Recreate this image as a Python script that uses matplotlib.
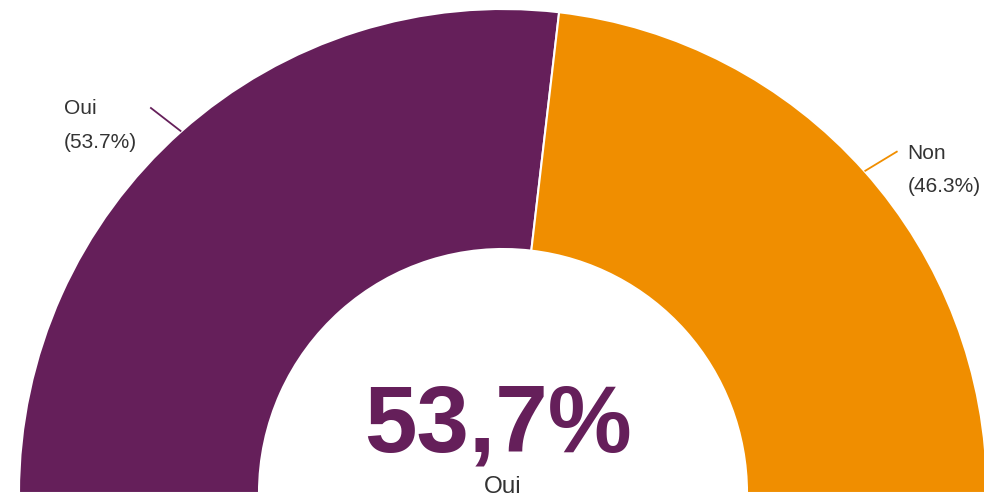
import matplotlib
matplotlib.use("Agg")
import matplotlib.pyplot as plt
import numpy as np

categories = ["Oui", "Non"]
values = [53.7, 46.3]
colors = ["#651F5A", "#F08E00"]
center_label = "53,7%"
center_sub = "Oui"

W, H = 984, 504
fig = plt.figure(figsize=(W / 100, H / 100), dpi=100)
ax = fig.add_axes([0, 0, 1, 1])
plt.rcParams['font.family'] = ['Liberation Sans', 'DejaVu Sans']

cx, cy = 503, 11
R = 484
ring = 240

total = sum(values)
pie_vals = values + [total]
wedges, _ = ax.pie(pie_vals, colors=colors + ["none"], startangle=180,
                   counterclock=False, center=(cx, cy), radius=R,
                   wedgeprops=dict(width=ring, edgecolor="white", linewidth=1.5))
wedges[-1].set_edgecolor("none")

ax.set_xlim(0, W)
ax.set_ylim(0, H)
ax.set_aspect("auto")
ax.axis("off")

txtcol = "#333333"
offsets = [(-31, 24), (33, 20)]
text_dy = [8, 7]
start = 180.0
for i, (cat, v) in enumerate(zip(categories, values)):
    span = 180.0 * v / total
    mid = np.deg2rad(start - span / 2)
    start -= span
    x0 = cx + R * np.cos(mid)
    y0 = cy + R * np.sin(mid)
    dx, dy = offsets[i]
    x1, y1 = x0 + dx, y0 + dy
    ax.plot([x0, x1], [y0, y1], color=colors[i], lw=1.3, solid_capstyle="butt")
    lab = f"{cat}\n({v:.1f}%)"
    if dx < 0:
        ax.text(x1 - 13, y1 + text_dy[i], lab, ha="right", va="top", multialignment="left",
                fontsize=15, color=txtcol, linespacing=1.95)
    else:
        ax.text(x1 + 10, y1 + text_dy[i], lab, ha="left", va="top", multialignment="left",
                fontsize=15, color=txtcol, linespacing=1.95)

ax.text(498, 504 - 451, center_label, ha="center", va="baseline",
        fontsize=68, fontweight="bold", color=colors[0])
ax.text(503, 504 - 493, center_sub, ha="center", va="baseline",
        fontsize=17.5, color=txtcol)

fig.savefig("out.png", dpi=100)
